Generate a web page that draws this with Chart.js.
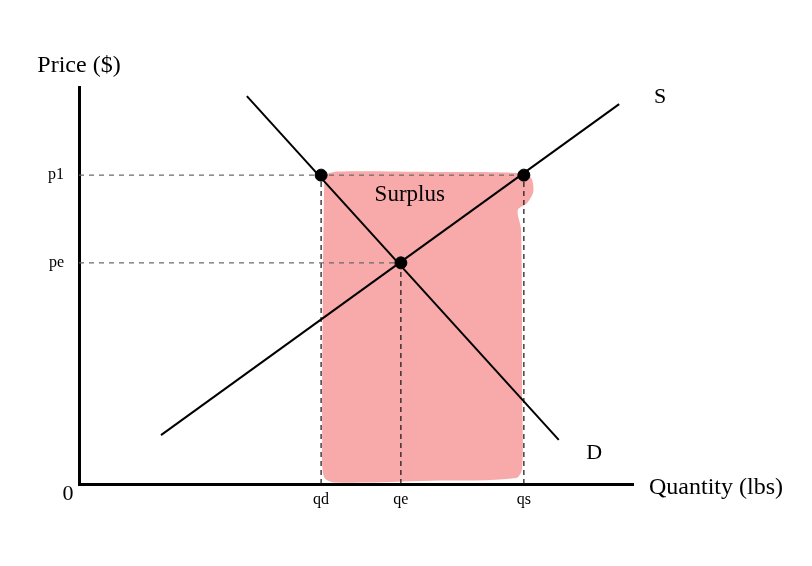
<!DOCTYPE html>
<html>
<head>
<meta charset="utf-8">
<script src="https://cdn.jsdelivr.net/npm/chart.js@4/dist/chart.umd.min.js"></script>
<style>
  html, body { margin: 0; padding: 0; background: #ffffff; }
  #wrap { width: 812px; height: 566px; }
</style>
</head>
<body>
<div id="wrap"><canvas id="c" width="812" height="566"></canvas></div>
<script>
// ---- data (quantity 0..100, price 0..100) ----
const qTickValues = [43.7, 58.1, 80.3];
const qTickLabels = ['qd', 'qe', 'qs'];
const pTickValues = [77.8, 55.7];
const pTickLabels = ['p1', 'pe'];

const supplyQ = [14.8, 97.5];
const supplyP = [12.3, 95.7];
const demandQ = [30.3, 86.6];
const demandP = [97.7, 11.1];

const markedQ = [43.7, 58.1, 80.3];
const markedP = [77.8, 55.7, 77.8];

// surplus region outline (hand-drawn shape)
const surplusQ = [44.3, 46.5, 63.4, 79.6, 81.6, 82.0, 80.9, 79.2, 79.8, 80.0, 80.0, 78.9, 63.4, 46.0, 44.2, 43.9, 44.0, 44.2];
const surplusP = [77.9, 78.7, 78.6, 78.3, 77.1, 73.6, 70.8, 69.0, 64.0, 21.2, 4.0, 1.5, 0.8, 0.4, 1.8, 11.1, 46.3, 71.5];

const textLabels = ['S', 'D', 'Surplus'];
const textQ = [104.9, 93.0, 59.7];
const textP = [97.5, 7.8, 72.8];

const zip = (xs, ys) => xs.map((x, i) => ({ x: x, y: ys[i] }));
const SERIF = '"Liberation Serif", "Times New Roman", serif';

const annotate = {
  id: 'annotate',
  afterDatasetsDraw(chart) {
    const ctx = chart.ctx;
    const xs = chart.scales.x, ys = chart.scales.y;
    ctx.save();
    ctx.fillStyle = '#000';
    ctx.textAlign = 'center';
    ctx.textBaseline = 'middle';
    textLabels.forEach((t, i) => {
      ctx.font = (t === 'Surplus' ? '23px ' : '22px ') + SERIF;
      ctx.fillText(t, xs.getPixelForValue(textQ[i]), ys.getPixelForValue(textP[i]));
    });
    // axis titles
    ctx.font = '24px ' + SERIF;
    ctx.fillText('Price ($)', chart.chartArea.left, chart.chartArea.top - 21);
    ctx.textAlign = 'left';
    ctx.fillText('Quantity (lbs)', chart.chartArea.right + 16, chart.chartArea.bottom + 4);
    ctx.textAlign = 'center';
    ctx.font = '22px ' + SERIF;
    ctx.fillText('0', chart.chartArea.left - 11, chart.chartArea.bottom + 10);
    ctx.restore();
  }
};

new Chart(document.getElementById('c'), {
  type: 'scatter',
  data: {
    datasets: [
      {
        label: 'Surplus',
        data: zip(surplusQ, surplusP),
        showLine: true,
        fill: 'shape',
        backgroundColor: '#f8a9a9',
        borderColor: 'rgba(0,0,0,0)',
        borderWidth: 0,
        pointRadius: 0,
        tension: 0.3,
        order: 10
      },
      {
        label: 'p1 guide',
        data: [{ x: 0, y: markedP[0] }, { x: markedQ[2], y: markedP[2] }],
        showLine: true, borderColor: '#666', borderWidth: 1.2, borderDash: [5, 5],
        pointRadius: 0, order: 5
      },
      {
        label: 'pe guide',
        data: [{ x: 0, y: markedP[1] }, { x: markedQ[1], y: markedP[1] }],
        showLine: true, borderColor: '#666', borderWidth: 1.2, borderDash: [5, 5],
        pointRadius: 0, order: 5
      },
      {
        label: 'qd guide',
        data: [{ x: markedQ[0], y: 0 }, { x: markedQ[0], y: markedP[0] }],
        showLine: true, borderColor: '#111', borderWidth: 1.2, borderDash: [5, 4],
        pointRadius: 0, order: 5
      },
      {
        label: 'qe guide',
        data: [{ x: markedQ[1], y: 0 }, { x: markedQ[1], y: markedP[1] }],
        showLine: true, borderColor: '#111', borderWidth: 1.2, borderDash: [5, 4],
        pointRadius: 0, order: 5
      },
      {
        label: 'qs guide',
        data: [{ x: markedQ[2], y: 0 }, { x: markedQ[2], y: markedP[2] }],
        showLine: true, borderColor: '#111', borderWidth: 1.2, borderDash: [5, 4],
        pointRadius: 0, order: 5
      },
      {
        label: 'Supply',
        data: zip(supplyQ, supplyP),
        showLine: true, borderColor: '#000', borderWidth: 2, pointRadius: 0, order: 2
      },
      {
        label: 'Demand',
        data: zip(demandQ, demandP),
        showLine: true, borderColor: '#000', borderWidth: 2, pointRadius: 0, order: 2
      },
      {
        label: 'Points',
        data: zip(markedQ, markedP),
        showLine: false, backgroundColor: '#000', borderColor: '#000',
        pointRadius: 6, order: 1
      }
    ]
  },
  options: {
    responsive: false,
    animation: false,
    events: [],
    layout: { padding: { top: 87, right: 179, left: 0, bottom: 0 } },
    plugins: { legend: { display: false }, tooltip: { enabled: false } },
    scales: {
      x: {
        type: 'linear', min: 0, max: 100,
        grid: { display: false, drawTicks: false },
        border: { display: true, color: '#000', width: 3 },
        afterBuildTicks: (s) => { s.ticks = qTickValues.map(v => ({ value: v })); },
        afterFit: (s) => { s.height = 82; },
        ticks: {
          autoSkip: false, maxRotation: 0, padding: 6, color: '#000',
          font: { family: SERIF, size: 16 },
          callback: (v, i) => qTickLabels[i]
        }
      },
      y: {
        type: 'linear', min: 0, max: 100,
        grid: { display: false, drawTicks: false },
        border: { display: true, color: '#000', width: 3 },
        afterBuildTicks: (s) => { s.ticks = pTickValues.map(v => ({ value: v })); },
        afterFit: (s) => { s.width = 79; },
        ticks: {
          autoSkip: false, padding: 15, color: '#000',
          font: { family: SERIF, size: 16 },
          callback: (v, i) => pTickLabels[i]
        }
      }
    }
  },
  plugins: [annotate]
});
</script>
</body>
</html>
